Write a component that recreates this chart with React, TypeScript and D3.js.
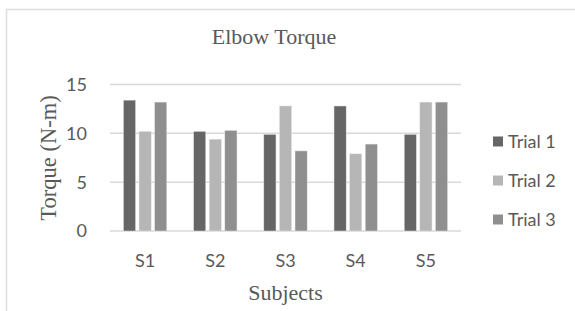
import React, { useEffect, useRef } from 'react';
import * as d3 from 'd3';

const subjects = ['S1', 'S2', 'S3', 'S4', 'S5'];
const trials = ['Trial 1', 'Trial 2', 'Trial 3'];
const trial1 = [13.4, 10.2, 9.9, 12.8, 9.9];
const trial2 = [10.2, 9.4, 12.8, 7.9, 13.2];
const trial3 = [13.2, 10.3, 8.2, 8.9, 13.2];
const yTicks = [0, 5, 10, 15];
const colors = ['#666666', '#b6b6b6', '#8f8f8f'];

const W = 575;
const H = 311;

export default function App() {
  const ref = useRef<SVGSVGElement>(null);

  useEffect(() => {
    const svg = d3.select(ref.current);
    svg.selectAll('*').remove();

    const series = [trial1, trial2, trial3];
    const rows = subjects.map((s, i) => ({ s, vals: series.map(v => v[i]) }));

    const x0 = d3.scaleBand().domain(subjects).range([110, 461])
      .paddingInner(0.382).paddingOuter(0.191);
    const x1 = d3.scaleBand().domain(trials).range([0, x0.bandwidth()])
      .paddingInner(0.22).paddingOuter(0);
    const y = d3.scaleLinear().domain([0, 15]).range([231, 84.5]);

    // chart frame
    svg.append('rect')
      .attr('x', 6.5).attr('y', 9.5)
      .attr('width', W + 10).attr('height', H + 10)
      .attr('fill', '#fff').attr('stroke', '#dcdcdc').attr('stroke-width', 1.5);

    svg.append('text')
      .attr('x', 274).attr('y', 44)
      .attr('text-anchor', 'middle')
      .attr('font-family', '"Liberation Serif", "Times New Roman", serif')
      .attr('font-size', 22).attr('fill', '#595959')
      .text('Elbow Torque');

    // gridlines
    svg.append('g').selectAll('line')
      .data(yTicks)
      .join('line')
        .attr('x1', 110).attr('x2', 461)
        .attr('y1', d => y(d)).attr('y2', d => y(d))
        .attr('stroke', '#d9d9d9').attr('stroke-width', 1.5);

    svg.append('g')
      .attr('font-family', 'Lato, "Open Sans", sans-serif')
      .attr('font-size', 18).attr('fill', '#595959')
      .attr('text-anchor', 'end')
    .selectAll('text')
    .data(yTicks)
    .join('text')
      .attr('x', 87).attr('y', d => y(d))
      .attr('dy', '0.36em')
      .text(d => d);

    // bars
    const groups = svg.append('g').selectAll('g')
      .data(rows)
      .join('g')
        .attr('transform', d => `translate(${x0(d.s)},0)`);
    groups.selectAll('rect')
      .data(d => d.vals.map((v, i) => ({ t: trials[i], v, i })))
      .join('rect')
        .attr('x', d => x1(d.t)!)
        .attr('y', d => y(d.v))
        .attr('width', x1.bandwidth())
        .attr('height', d => y(0) - y(d.v))
        .attr('fill', d => colors[d.i])
        .attr('stroke', '#e6e6e6').attr('stroke-width', 0.5);

    svg.append('g')
      .attr('font-family', 'Lato, "Open Sans", sans-serif')
      .attr('font-size', 18).attr('fill', '#595959')
      .attr('text-anchor', 'middle')
    .selectAll('text')
    .data(subjects)
    .join('text')
      .attr('x', d => x0(d)! + x0.bandwidth() / 2)
      .attr('y', 267)
      .text(d => d);

    svg.append('text')
      .attr('x', 285.5).attr('y', 300)
      .attr('text-anchor', 'middle')
      .attr('font-family', '"Liberation Serif", "Times New Roman", serif')
      .attr('font-size', 22).attr('fill', '#595959')
      .text('Subjects');

    svg.append('text')
      .attr('transform', 'translate(56,158) rotate(-90)')
      .attr('text-anchor', 'middle')
      .attr('font-family', '"Liberation Serif", "Times New Roman", serif')
      .attr('font-size', 22.5).attr('fill', '#595959')
      .text('Torque (N-m)');

    // legend
    const legend = svg.append('g').selectAll('g')
      .data(trials)
      .join('g')
        .attr('transform', (d, i) => `translate(493,${141.5 + i * 39})`);
    legend.append('rect')
      .attr('x', 0).attr('y', -5)
      .attr('width', 10).attr('height', 10)
      .attr('fill', (d, i) => colors[i]);
    legend.append('text')
      .attr('x', 15).attr('dy', '0.36em')
      .attr('font-family', 'Lato, "Open Sans", sans-serif')
      .attr('font-size', 18).attr('fill', '#595959')
      .text(d => d);
  }, []);

  return (
    <svg ref={ref} width={W} height={H}
      style={{ position: 'absolute', left: 0, top: 0, display: 'block' }} />
  );
}
